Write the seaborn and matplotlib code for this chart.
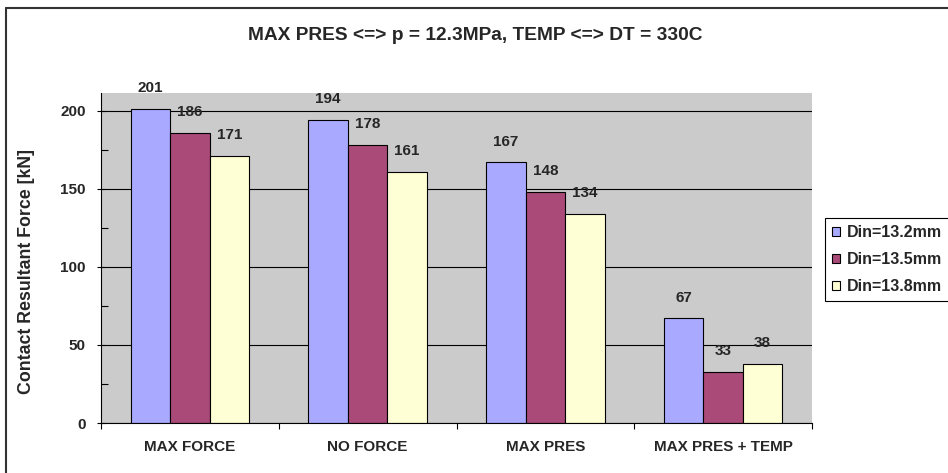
import matplotlib
matplotlib.use("Agg")
import matplotlib.pyplot as plt
import matplotlib.lines as mlines
import seaborn as sns
import pandas as pd
from matplotlib.ticker import FixedLocator, NullFormatter

categories = ["MAX FORCE", "NO FORCE", "MAX PRES", "MAX PRES + TEMP"]
series_names = ["Din=13.2mm", "Din=13.5mm", "Din=13.8mm"]
din_132 = [201, 194, 167, 67]
din_135 = [186, 178, 148, 33]
din_138 = [171, 161, 134, 38]
colors = ["#A9AAFF", "#AA4A78", "#FFFFD5"]
title = "MAX PRES <=> p = 12.3MPa, TEMP <=> DT = 330C"
ylabel = "Contact Resultant Force [kN]"
yticks = [0, 50, 100, 150, 200]

rows = []
for name, vals in zip(series_names, [din_132, din_135, din_138]):
    for c, v in zip(categories, vals):
        rows.append({"category": c, "series": name, "value": v})
df = pd.DataFrame(rows)

sns.set_theme(style="white")
plt.rcParams["font.family"] = ["Liberation Sans", "DejaVu Sans"]
plt.rcParams["font.weight"] = "bold"

fig = plt.figure(figsize=(9.48, 4.73), dpi=100)
ax = fig.add_axes([101/948, 1-423/473, 711/948, 330/473])
ax.set_facecolor("#CBCBCB")

sns.barplot(data=df, x="category", y="value", hue="series", order=categories,
            hue_order=series_names, palette=colors, width=2/3, edgecolor="black",
            linewidth=0.8, saturation=1, ax=ax, errorbar=None)

ax.set_ylim(0, 211.5)
ax.set_xlim(-0.5, len(categories) - 0.5)
ax.set_yticks(yticks)
ax.yaxis.set_minor_locator(FixedLocator([25, 75, 125, 175]))
ax.set_yticklabels([str(t) for t in yticks], fontsize=11, fontweight="bold")
ax.set_xticks(range(len(categories)))
ax.set_xticklabels(categories, fontsize=11, fontweight="bold")
ax.xaxis.set_minor_locator(FixedLocator([i - 0.5 for i in range(len(categories) + 1)]))
ax.xaxis.set_minor_formatter(NullFormatter())
ax.tick_params(axis="x", which="major", length=0, pad=12)
ax.tick_params(axis="x", which="minor", direction="out", length=4, width=0.8, color="black", bottom=True)
ax.tick_params(axis="y", which="major", direction="inout", length=6, width=0.8, color="black", pad=8, left=True)
ax.tick_params(axis="y", which="minor", direction="in", length=5, width=0.8, color="black", left=True)

ax.grid(axis="y", which="major", color="black", linewidth=0.8)
ax.grid(axis="x", visible=False)
ax.set_axisbelow(True)
for s in ["top", "right"]:
    ax.spines[s].set_visible(False)
for s in ["left", "bottom"]:
    ax.spines[s].set_color("black")
    ax.spines[s].set_linewidth(0.8)

ax.set_xlabel("")
ax.set_ylabel(ylabel, fontsize=12.8, fontweight="bold")
ax.yaxis.set_label_coords(-0.093, 0.46)

for cont in ax.containers:
    ax.bar_label(cont, padding=10, fontsize=11, fontweight="bold")

handles, labels = ax.get_legend_handles_labels()
if ax.get_legend() is not None:
    ax.get_legend().remove()
leg = fig.legend(handles, labels, loc="upper left", bbox_to_anchor=(825/948, 1-218/473),
                 bbox_transform=fig.transFigure, fontsize=11.5, frameon=True, fancybox=False,
                 framealpha=1, edgecolor="black", handlelength=0.5, handleheight=0.5,
                 handletextpad=0.45, labelspacing=0.75, borderpad=0.45, borderaxespad=0)
leg.get_frame().set_linewidth(0.8)
for t in leg.get_texts():
    t.set_fontweight("bold")

fig.text(475/948, 1-36/473, title, ha="center", va="center", fontsize=13.8, fontweight="bold")

# chart area border (top and left visible)
fig.add_artist(mlines.Line2D([6/948, 1], [1-8.5/473, 1-8.5/473], transform=fig.transFigure,
                             color="#333333", linewidth=1.5))
fig.add_artist(mlines.Line2D([6/948, 6/948], [0, 1-8.5/473], transform=fig.transFigure,
                             color="#333333", linewidth=1.5))

fig.savefig("out.png", dpi=100)
